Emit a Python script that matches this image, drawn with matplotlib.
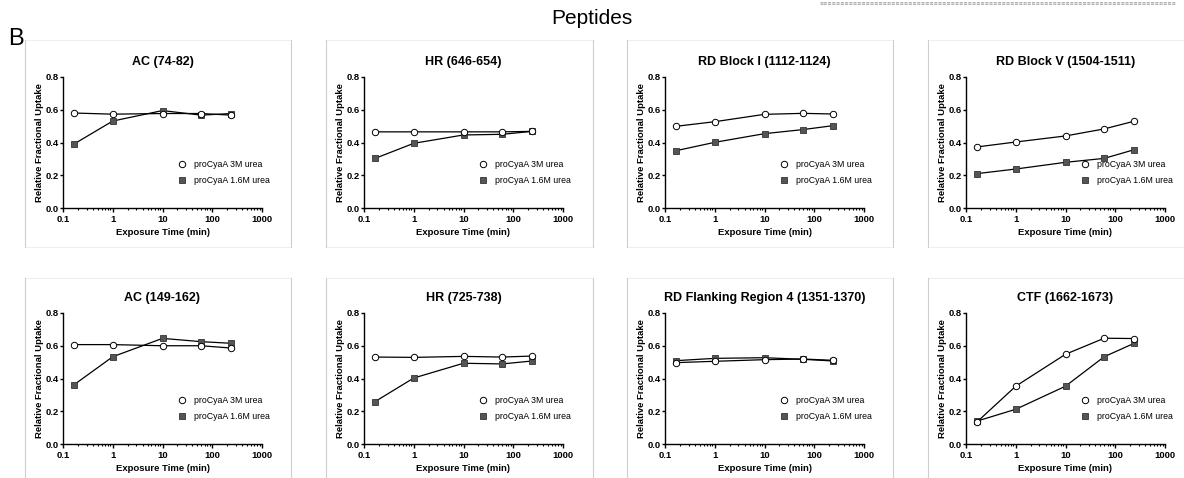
import matplotlib
matplotlib.use("Agg")
import matplotlib.pyplot as plt
from matplotlib.lines import Line2D

plt.rcParams['font.family'] = ['Liberation Sans', 'DejaVu Sans']

# exposure times (min): 10 s, 1, 10, 60, 240 min
times = [0.167, 1, 10, 60, 240]

titles = [
    "AC (74-82)", "HR (646-654)", "RD Block I (1112-1124)", "RD Block V (1504-1511)",
    "AC (149-162)", "HR (725-738)", "RD Flanking Region 4 (1351-1370)", "CTF (1662-1673)",
]

urea_3m = [
    [0.58, 0.573, 0.577, 0.577, 0.567],
    [0.465, 0.465, 0.465, 0.465, 0.468],
    [0.499, 0.527, 0.572, 0.578, 0.574],
    [0.373, 0.403, 0.440, 0.483, 0.530],
    [0.607, 0.607, 0.600, 0.600, 0.586],
    [0.531, 0.529, 0.535, 0.531, 0.537],
    [0.497, 0.505, 0.515, 0.519, 0.511],
    [0.135, 0.353, 0.548, 0.646, 0.644],
]

urea_16m = [
    [0.391, 0.531, 0.595, 0.567, 0.577],
    [0.303, 0.395, 0.446, 0.450, 0.468],
    [0.350, 0.401, 0.454, 0.479, 0.503],
    [0.210, 0.238, 0.279, 0.303, 0.356],
    [0.362, 0.533, 0.645, 0.625, 0.615],
    [0.259, 0.403, 0.493, 0.489, 0.507],
    [0.509, 0.523, 0.527, 0.517, 0.507],
    [0.140, 0.212, 0.353, 0.533, 0.615],
]

labels = ["proCyaA 3M urea", "proCyaA 1.6M urea"]
xticks = [0.1, 1, 10, 100, 1000]
xticklabels = ["0.1", "1", "10", "100", "1000"]
yticks = [0.0, 0.2, 0.4, 0.6, 0.8]
yticklabels = ["0.0", "0.2", "0.4", "0.6", "0.8"]

W, H = 1184, 478
fig = plt.figure(figsize=(W / 100, H / 100), dpi=100)

# layout in pixels
col_left = [63, 364, 665, 966]
row_top = [77, 313]
ax_w, ax_h = 199, 131
box_x = [(25, 291), (326, 593), (627, 893), (928, 1190)]
box_y = [(40, 247), (278, 490)]


def fx(x):
    return x / W


def fy(y):
    return 1 - y / H


# light panel frames
for (y0, y1) in box_y:
    for (x0, x1) in box_x:
        fig.add_artist(Line2D([fx(x0), fx(x1)], [fy(y0), fy(y0)], color='#efefef', lw=0.8))
        fig.add_artist(Line2D([fx(x0), fx(x1)], [fy(y1), fy(y1)], color='#efefef', lw=0.8))
        fig.add_artist(Line2D([fx(x0), fx(x0)], [fy(y0), fy(y1)], color='#cfcfcf', lw=0.8))
        fig.add_artist(Line2D([fx(x1), fx(x1)], [fy(y0), fy(y1)], color='#cfcfcf', lw=0.8))

fig.text(fx(8), fy(39), "B", fontsize=17, ha='left', va='center')
fig.text(0.5, fy(19), "Peptides", fontsize=15, ha='center', va='center')
# faint remnant of labels along the top edge
fig.text(fx(820), 0.997, "\u2261" * 84, fontsize=3.6, color='#8a8a8a', ha='left', va='top',
         family='DejaVu Sans')

for i in range(8):
    r, c = divmod(i, 4)
    ax = fig.add_axes([fx(col_left[c]), fy(row_top[r] + ax_h), fx(ax_w), ax_h / H])
    ax.plot(times, urea_16m[i], color='black', lw=0.9, marker='s', ms=4.8,
            mfc='#555555', mec='#333333', mew=0.6, zorder=3)
    ax.plot(times, urea_3m[i], color='black', lw=0.9, marker='o', ms=4.6,
            mfc='white', mec='black', mew=0.7, zorder=4)

    ax.set_xscale('log')
    ax.set_xlim(0.1, 1000)
    ax.set_ylim(0, 0.8)
    ax.set_xticks(xticks)
    ax.set_xticklabels(xticklabels)
    ax.set_yticks(yticks)
    ax.set_yticklabels(yticklabels)

    for s in ['top', 'right']:
        ax.spines[s].set_visible(False)
    for s in ['left', 'bottom']:
        ax.spines[s].set_linewidth(1.0)

    ax.tick_params(axis='x', which='major', length=3, width=1, pad=2, labelsize=6.8)
    ax.tick_params(axis='x', which='minor', length=1.6, width=0.8)
    ax.tick_params(axis='y', length=2.5, width=1, pad=0.5, labelsize=6.8)
    for lab in ax.get_xticklabels() + ax.get_yticklabels():
        lab.set_fontweight('bold')

    ax.set_title(titles[i], fontsize=9, fontweight='bold', pad=9)
    ax.set_xlabel("Exposure Time (min)", fontsize=6.8, fontweight='bold', labelpad=3)
    ax.set_ylabel("Relative Fractional Uptake", fontsize=6.8, fontweight='bold', labelpad=1)

    handles = [
        Line2D([], [], ls='none', marker='o', ms=4.6, mfc='white', mec='black', mew=0.7),
        Line2D([], [], ls='none', marker='s', ms=4.8, mfc='#555555', mec='#333333', mew=0.6),
    ]
    ax.legend(handles, labels, loc='center left', bbox_to_anchor=(0.575, 0.27),
              frameon=False, fontsize=6.3, handlelength=1, handletextpad=0.9,
              labelspacing=0.8, borderpad=0, borderaxespad=0)

fig.savefig("out.png", dpi=100)
